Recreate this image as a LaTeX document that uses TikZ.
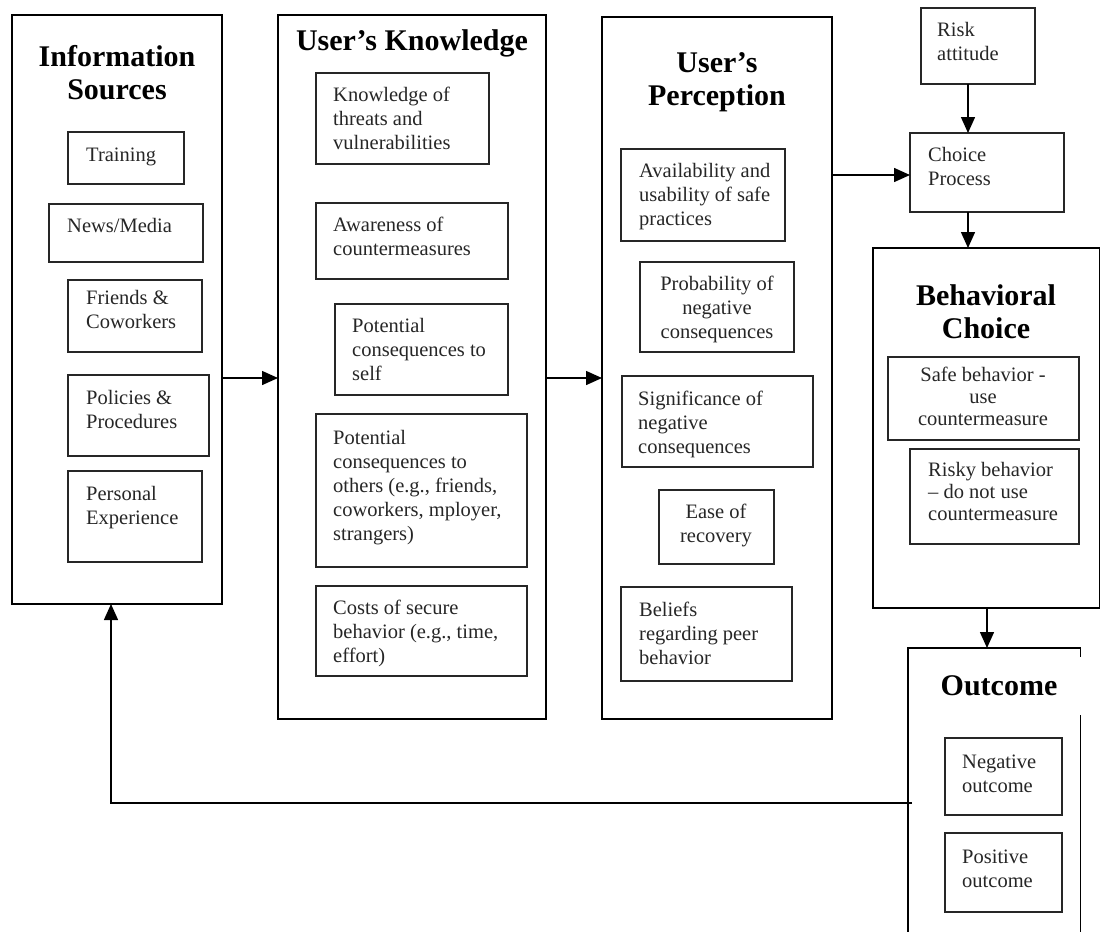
\documentclass[tikz,border=0pt]{standalone}
\usepackage{fontspec}
\setmainfont{Liberation Serif}
\usetikzlibrary{arrows.meta}

\tikzset{
  groupbox/.style={draw=black, line width=1.5pt, inner sep=0pt, outer sep=0pt},
  cellbox/.style={draw=black!85, line width=1.5pt, inner sep=0pt, outer sep=0pt},
  celltext/.style={font=\fontsize{20.5}{24}\selectfont, inner sep=0pt, text=black!85},
  tighttext/.style={font=\fontsize{20.5}{22}\selectfont},
  cell-l/.style={anchor=base west},
  cell-c/.style={anchor=base},
  heading/.style={font=\fontsize{30}{33}\selectfont\bfseries,
    anchor=base, inner sep=0pt, text=black},
  flow/.style={line width=1.5pt, draw=black, -{Triangle[length=16pt,width=14pt]}},
  link/.style={line width=1.5pt, draw=black},
}

% stacked lines whose baseline is that of the first line
\newcommand\firstlines[2]{\begin{tabular}[t]{@{}#1@{}}#2\end{tabular}}

% #1 name, #2-#5 box corners (x1,y1,x2,y2), #6 text x, #7 first baseline,
% #8 l or c, #9 text
\newcommand\cell[9]{%
  \node[cellbox, minimum width={#4-#2}, minimum height={#5-#3}, anchor=north west]
    (#1) at (#2,#3) {};
  \node[celltext, cell-#8] (#1-text) at (#6,#7) {\firstlines{#8}{#9}};
}

\begin{document}
\begin{tikzpicture}[x=1pt, y=-1pt]
  \useasboundingbox (0,0) rectangle (1101,932);

  % ---- group frames ----
  \node[groupbox, minimum width=210, minimum height=589, anchor=north west] (info) at (12,15) {};
  \node[groupbox, minimum width=268, minimum height=704, anchor=north west] (know) at (278,15) {};
  \node[groupbox, minimum width=230, minimum height=702, anchor=north west] (perc) at (602,17) {};
  \node[groupbox, minimum width=226.5, minimum height=360, anchor=north west] (behav) at (873,248) {};
  \node[minimum width=172, minimum height=284, inner sep=0pt, anchor=north west] (outcome) at (908,648) {};
  % the outcome frame is open at the bottom and broken on its right side
  \draw[link] (outcome.south west) -- (outcome.north west) -- (outcome.north east) -- ++(0,9);
  \draw[link] ([yshift=-67pt]outcome.north east) -- (outcome.south east);

  % ---- headings ----
  \node[heading] (info-title)    at (117,66)  {\firstlines{c}{Information\\Sources}};
  \node[heading] (know-title)    at (412,50)  {User’s Knowledge};
  \node[heading] (perc-title)    at (717,72)  {\firstlines{c}{User’s\\Perception}};
  \node[heading] (behav-title)   at (986,305) {\firstlines{c}{Behavioral\\Choice}};
  \node[heading] (outcome-title) at (999,695) {Outcome};

  % ---- information sources ----
  \cell{train}{68}{132}{184}{184}{86}{161}{l}{Training}
  \cell{news}{49}{204}{203}{262}{67}{232}{l}{News/Media}
  \cell{friends}{68}{280}{202}{352}{86}{304}{l}{Friends \&\\Coworkers}
  \cell{policies}{68}{375}{209}{456}{86}{404}{l}{Policies \&\\Procedures}
  \cell{personal}{68}{471}{202}{562}{86}{500}{l}{Personal\\Experience}

  % ---- user's knowledge ----
  \cell{threats}{316}{73}{489}{164}{333}{101}{l}{Knowledge of\\threats and\\vulnerabilities}
  \cell{aware}{316}{203}{508}{279}{333}{231}{l}{Awareness of\\countermeasures}
  \cell{self}{335}{304}{508}{395}{352}{332}{l}{Potential\\consequences to\\self}
  \cell{others}{316}{414}{527}{567}{333}{444}{l}{Potential\\consequences to\\others (e.g., friends,\\coworkers, mployer,\\strangers)}
  \cell{costs}{316}{586}{527}{676}{333}{614}{l}{Costs of secure\\behavior (e.g., time,\\effort)}

  % ---- user's perception ----
  \cell{avail}{621}{149}{785}{241}{639}{177}{l}{Availability and\\usability of safe\\practices}
  \cell{prob}{640}{262}{794}{352}{717}{290}{c}{Probability of\\negative\\consequences}
  \cell{signif}{622}{376}{813}{467}{638}{405}{l}{Significance of\\negative\\consequences}
  \cell{ease}{659}{490}{774}{564}{716}{518}{c}{Ease of\\recovery}
  \cell{beliefs}{621}{587}{792}{681}{639}{616}{l}{Beliefs\\regarding peer\\behavior}

  % ---- choice column ----
  \cell{risk}{921}{8}{1035}{84}{937}{36}{l}{Risk\\attitude}
  \cell{choice}{910}{133}{1064}{212}{928}{161}{l}{Choice\\Process}
  \node[cellbox, minimum width=191, minimum height=83, anchor=north west] (safe) at (888,357) {};
  \node[celltext, tighttext, cell-c] (safe-text) at (983,381)
    {\firstlines{c}{Safe behavior -\\use\\countermeasure}};
  \node[cellbox, minimum width=169, minimum height=95, anchor=north west] (risky) at (910,449) {};
  \node[celltext, tighttext, cell-l] (risky-text) at (928,476)
    {\firstlines{l}{Risky behavior\\– do not use\\countermeasure}};
  \cell{neg}{945}{738}{1062}{815}{962}{768}{l}{Negative\\outcome}
  \cell{pos}{945}{833}{1062}{912}{962}{863}{l}{Positive\\outcome}

  % ---- connectors ----
  \coordinate (rowA) at (0,378);
  \coordinate (rowB) at (0,175);
  \coordinate (colA) at (968,0);
  \coordinate (colB) at (987,0);
  \coordinate (colC) at (111,0);
  \coordinate (fbstart) at (912,803);

  \draw[flow] (info.east |- rowA) -- (know.west |- rowA);
  \draw[flow] (know.east |- rowA) -- (perc.west |- rowA);
  \draw[flow] (perc.east |- rowB) -- (choice.west |- rowB);
  \draw[flow] (risk.south -| colA) -- (choice.north -| colA);
  \draw[flow] (choice.south -| colA) -- (behav.north -| colA);
  \draw[flow] (behav.south -| colB) -- (outcome.north -| colB);
  \draw[flow] (fbstart) -| (info.south -| colC);
\end{tikzpicture}
\end{document}
